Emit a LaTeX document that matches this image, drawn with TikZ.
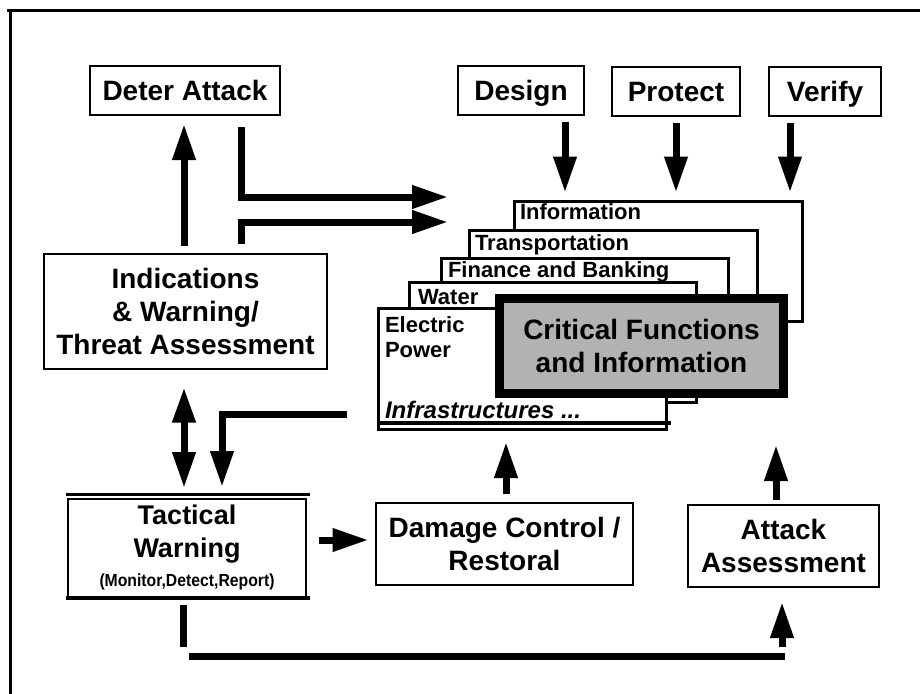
\documentclass[tikz,border=0pt]{standalone}
\usepackage{fontspec}
\setmainfont{Liberation Sans}
\newfontfamily\narrowsans[FakeStretch=0.9]{Liberation Sans}
\usetikzlibrary{arrows.meta,calc}

\tikzset{
  box/.style={draw, line width=2pt, fill=white, inner sep=0pt, outer sep=0pt,
    align=center, font=\bfseries\fontsize{28}{33}\selectfont},
  oneline/.style={text height=20pt, text depth=0pt},
  layer/.style={draw, line width=3pt, fill=white, inner sep=0pt, outer sep=0pt,
    anchor=north west},
  layertext/.style={anchor=base west, inner sep=0pt, outer sep=0pt,
    font=\bfseries\fontsize{22}{25}\selectfont},
  corebox/.style={draw, line width=9pt, fill=gray!60, inner sep=0pt, outer sep=0pt,
    align=center, font=\bfseries\fontsize{28}{33}\selectfont},
  shaft/.style={line width=7pt},
  rule/.style={line width=3.5pt},
  arr/.style={shaft, -{Triangle[length=36pt,width=22pt]}},
  darr/.style={shaft, {Triangle[length=35pt,width=22pt]}-{Triangle[length=36pt,width=22pt]}},
}

\begin{document}
\begin{tikzpicture}[x=1pt, y=-1pt]
  \useasboundingbox[fill=white] (0,0) rectangle (920,693);

  % outer frame (top and left edges)
  \draw[line width=3pt] (7,11) -- (925,11);
  \draw[line width=3pt] (10,11) -- (10,700);

  % top row of boxes
  \node[box, oneline, minimum width=190pt, minimum height=49pt] (deter)   at (185,90.5)  {Deter Attack};
  \node[box, oneline, minimum width=126pt, minimum height=49pt] (design)  at (521,90.5)  {Design};
  \node[box, oneline, minimum width=128pt, minimum height=49pt] (protect) at (676,91.5)  {Protect};
  \node[box, oneline, minimum width=112pt, minimum height=49pt] (verify)  at (825,91.5)  {Verify};

  % left column
  \node[box, minimum width=283pt, minimum height=115pt] (ind) at (185.5,311)
    {Indications\\\& Warning/\\Threat Assessment};
  \node[box, minimum width=238pt, minimum height=98pt, font=\bfseries\fontsize{27}{33}\selectfont]
    (tact) at (187,548) {Tactical\\Warning\\[-4pt]{\narrowsans\fontsize{17.5}{19}\selectfont(Monitor,Detect,Report)}};
  \draw[rule] ($(tact.north west)+(-2,-4.5)$) -- ($(tact.north east)+(4,-4.5)$);
  \draw[rule] ($(tact.south west)+(-2,1)$) -- ($(tact.south east)+(4,1)$);

  % bottom row
  \node[box, minimum width=257pt, minimum height=82pt] (dmg) at (504.5,543.5)
    {Damage Control /\\Restoral};
  \node[box, minimum width=191pt, minimum height=82pt] (att) at (783.5,546)
    {Attack\\Assessment};

  % stacked infrastructure sheets, back to front
  \node[layer, minimum width=288pt, minimum height=120pt] (info) at (514.5,201.5) {};
  \node[layertext] (infoT) at (520,219) {Information};
  \node[layer, minimum width=288pt, minimum height=70pt] (transp) at (469.5,230.5) {};
  \node[layertext] (transpT) at (475,250) {Transportation};
  \node[layer, minimum width=287pt, minimum height=52pt] (fin) at (441.5,258.5) {};
  \node[layertext] (finT) at (448,277) {Finance and Banking};
  \node[layer, minimum width=286.5pt, minimum height=120pt] (water) at (409.5,282.5) {};
  \node[layertext] (waterT) at (418,304) {Water};
  \node[layer, minimum width=288pt, minimum height=121pt] (elec) at (378.5,308.5) {};
  \node[layertext] (elecT) at (385,332) {Electric};
  \node[layertext] (powerT) at (385,357) {Power};
  \node[layertext, font=\bfseries\itshape\fontsize{24}{26}\selectfont] (infraT) at (385,418.5) {Infrastructures ...};
  \draw[line width=4.5pt] ($(elec.south west)+(0,-6.5)$) -- ($(elec.south east)+(4,-6.5)$);

  % core box on top of the stack
  \node[corebox, minimum width=284pt, minimum height=95pt] (crit) at (641.5,346)
    {Critical Functions\\and Information};

  % free ends of connectors
  \coordinate (stackA) at (448,197);
  \coordinate (stackB) at (448,222);
  \coordinate (barL) at (189,656);
  \coordinate (barR) at (785,656);

  % connectors
  \draw[arr, shorten <=8pt, shorten >=9pt] ([xshift=-1.5pt]ind.north) -- ([xshift=-1pt]deter.south);
  \draw[arr, shorten <=12pt] ([xshift=56pt]deter.south) |- (stackA);
  \draw[arr, shorten <=10pt] ([xshift=55.5pt]ind.north) |- (stackB);

  \draw[arr, shorten <=7pt, shorten >=9pt] ([xshift=44pt]design.south) -- ([xshift=44pt]design.south |- info.north);
  \draw[arr, shorten <=7pt, shorten >=9pt] (protect.south) -- (protect.south |- info.north);
  \draw[arr, shorten <=7pt, shorten >=9pt] ([xshift=-35pt]verify.south) -- ([xshift=-35pt]verify.south |- info.north);

  \draw[arr, shorten >=12pt] ($(elec.south west)+(-31.5,-15.5)$) -| ([xshift=35pt]tact.north);
  \draw[darr, shorten <=19pt, shorten >=11pt] ([xshift=-1.5pt]ind.south) -- ([xshift=-3pt]tact.north);

  \draw[arr, shorten <=13pt, shorten >=7.5pt] ([yshift=8pt]tact.east) -- ([yshift=3.5pt]dmg.west);
  \draw[arr, shorten <=9pt, shorten >=12.5pt] ([xshift=1.5pt]dmg.north) -- ([xshift=1.5pt]dmg.north |- elec.south);
  \draw[arr, shorten <=5pt, shorten >=51.5pt] ([xshift=-7.5pt]att.north) -- ([xshift=-7.5pt]att.north |- crit.south);

  \draw[shaft, shorten <=8pt] ([xshift=-4pt]tact.south) -- ++(0,50);
  \draw[shaft] (barL) -- (barR);
  \draw[arr, shorten <=9pt, shorten >=15pt] ([xshift=-1.5pt]att.south |- barR) -- ([xshift=-1.5pt]att.south);
\end{tikzpicture}
\end{document}
